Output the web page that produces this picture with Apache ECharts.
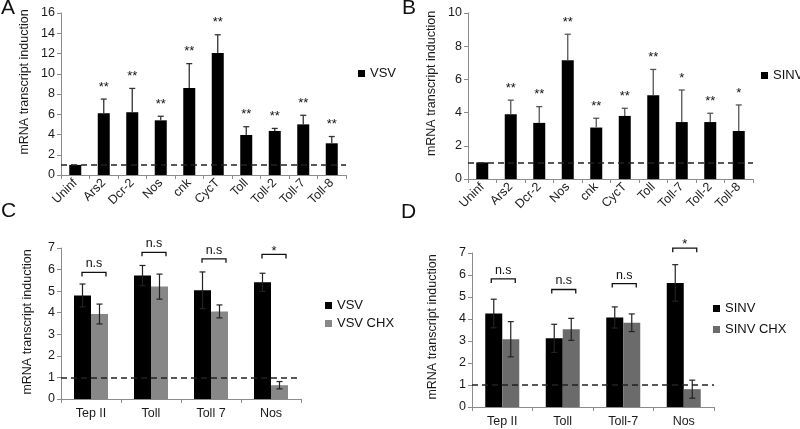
<!DOCTYPE html>
<html>
<head>
<meta charset="utf-8">
<script src="https://cdn.jsdelivr.net/npm/echarts@6/dist/echarts.min.js"></script>
<style>html,body{margin:0;padding:0;background:#fff;}#c{width:800px;height:429px;}</style>
</head>
<body>
<div id="c"></div>
<script>
// ---------- DATA ----------
const catsA = ['Uninf','Ars2','Dcr-2','Nos','cnk','CycT','Toll','Toll-2','Toll-7','Toll-8'];
const valsA = [1, 6.1, 6.2, 5.4, 8.6, 12.05, 3.95, 4.35, 5.0, 3.13];
const errA  = [0, 1.4, 2.35, 0.4, 2.4, 1.8, 0.82, 0.25, 0.9, 0.67];
const sigA  = ['', '**','**','**','**','**','**','**','**','**'];

const catsB = ['Uninf','Ars2','Dcr-2','Nos','cnk','CycT','Toll','Toll-7','Toll-2','Toll-8'];
const valsB = [1, 3.9, 3.38, 7.15, 3.1, 3.8, 5.04, 3.43, 3.43, 2.89];
const errB  = [0, 0.85, 0.98, 1.57, 0.56, 0.46, 1.56, 1.93, 0.53, 1.57];
const sigB  = ['', '**','**','**','**','**','**','*','**','*'];

const catsC   = ['Tep II','Toll','Toll 7','Nos'];
const vsvC    = [4.8, 5.72, 5.04, 5.41];
const vsvErrC = [0.53, 0.47, 0.85, 0.42];
const chxC    = [3.94, 5.21, 4.06, 0.64];
const chxErrC = [0.46, 0.58, 0.3, 0.17];
const brkC    = [5.87, 6.8, 6.5, 6.7];
const sigC    = ['n.s','n.s','n.s','*'];

const catsD    = ['Tep II','Toll','Toll-7','Nos'];
const sinvD    = [4.25, 3.12, 4.07, 5.64];
const sinvErrD = [0.65, 0.64, 0.48, 0.83];
const chxD     = [3.08, 3.53, 3.83, 0.81];
const chxErrD  = [0.8, 0.5, 0.4, 0.41];
const brkD     = [5.82, 5.34, 5.61, 7.22];
const sigD     = ['n.s','n.s','n.s','*'];

const baseline = 1;
const yTitle = 'mRNA transcript induction';

// ---------- STYLE ----------
const FONT = '"Liberation Sans", Arial, sans-serif';
const AX = '#8c8c8c';
const TXT = '#1a1a1a';

function xAxisCfg(gi, cats, rotate) {
  return {
    type: 'category', gridIndex: gi, data: cats,
    axisLine: { show: true, lineStyle: { color: AX, width: 1 } },
    axisTick: { show: true, length: 4, alignWithLabel: false, lineStyle: { color: AX } },
    axisLabel: { interval: 0, rotate: rotate, fontSize: 12.5, color: TXT, fontFamily: FONT, margin: rotate ? 6 : 8 },
    splitLine: { show: false }
  };
}
function yAxisCfg(gi, max, interval, gap, shift) {
  return {
    type: 'value', gridIndex: gi, min: 0, max: max, interval: interval,
    axisLine: { show: true, lineStyle: { color: AX, width: 1 } },
    axisTick: { show: true, length: 4, lineStyle: { color: AX } },
    axisLabel: { fontSize: 12.5, color: TXT, fontFamily: FONT, margin: 6 },
    splitLine: { show: false },
    name: yTitle, nameLocation: 'middle', nameGap: gap,
    nameTextStyle: { fontSize: 12.5, color: TXT, fontFamily: FONT, padding: [0, 0, 0, shift] }
  };
}

function upperErr(sig, color) {
  return function (params, api) {
    const i = api.value(0), v = api.value(1), e = api.value(2);
    const b = api.coord([i, v]), t = api.coord([i, v + e]);
    const x = b[0];
    const ch = [];
    if (e > 0) {
      ch.push({ type: 'line', shape: { x1: x, y1: b[1], x2: x, y2: t[1] }, style: { stroke: color, lineWidth: 1.3 } });
      ch.push({ type: 'line', shape: { x1: x - 3, y1: t[1], x2: x + 3, y2: t[1] }, style: { stroke: color, lineWidth: 1.3 } });
    }
    const s = sig[params.dataIndex];
    if (s) ch.push({ type: 'text', style: { text: s, x: x, y: t[1] - 12, align: 'center', verticalAlign: 'middle', fontSize: 13, fontFamily: FONT, fill: '#111' } });
    return { type: 'group', children: ch };
  };
}
function bothErr(offset, color) {
  return function (params, api) {
    const i = api.value(0), v = api.value(1), e = api.value(2);
    const t = api.coord([i, v + e]), bt = api.coord([i, v - e]);
    const x = t[0] + offset;
    return { type: 'group', children: [
      { type: 'line', shape: { x1: x, y1: bt[1], x2: x, y2: t[1] }, style: { stroke: color, lineWidth: 1.2 } },
      { type: 'line', shape: { x1: x - 3, y1: t[1], x2: x + 3, y2: t[1] }, style: { stroke: color, lineWidth: 1.2 } },
      { type: 'line', shape: { x1: x - 3, y1: bt[1], x2: x + 3, y2: bt[1] }, style: { stroke: color, lineWidth: 1.2 } }
    ] };
  };
}
function bracket(sig, shift) {
  return function (params, api) {
    const i = api.value(0), v = api.value(1);
    const p = api.coord([i, v]);
    const cx = p[0] + shift, y = p[1];
    const s = sig[params.dataIndex];
    return { type: 'group', children: [
      { type: 'polyline', shape: { points: [[cx - 12, y + 4], [cx - 12, y], [cx + 12, y], [cx + 12, y + 4]] }, style: { stroke: '#111', lineWidth: 1.3, fill: null } },
      { type: 'text', style: { text: s, x: cx, y: s === '*' ? y + 3 : y - 2, align: 'center', verticalAlign: 'bottom', fontSize: s === '*' ? 13 : 12.5, fontFamily: FONT, fill: '#111' } }
    ] };
  };
}
function dashLine() {
  return {
    silent: true, symbol: ['none', 'none'],
    label: { show: false },
    lineStyle: { type: [6, 4], color: '#222', width: 1.5 },
    emphasis: { disabled: true },
    data: [{ yAxis: baseline }]
  };
}
function legendCfg(names, left, top, gap) {
  return {
    data: names, orient: 'vertical', left: left, top: top, itemGap: gap,
    icon: 'rect', itemWidth: 7, itemHeight: 7, selectedMode: false,
    textStyle: { fontSize: 13, color: '#111', fontFamily: FONT }
  };
}

const option = {
  animation: false,
  backgroundColor: '#fff',
  textStyle: { fontFamily: FONT },
  grid: [
    { left: 61, top: 13, width: 285, height: 162, outerBoundsMode: 'none' },
    { left: 468, top: 13, width: 285, height: 166, outerBoundsMode: 'none' },
    { left: 61, top: 248, width: 240, height: 151, outerBoundsMode: 'none' },
    { left: 472, top: 253, width: 242, height: 154, outerBoundsMode: 'none' }
  ],
  xAxis: [
    xAxisCfg(0, catsA, 45), xAxisCfg(1, catsB, 45), xAxisCfg(2, catsC, 0), xAxisCfg(3, catsD, 0)
  ],
  yAxis: [
    yAxisCfg(0, 16, 2, 30, 24), yAxisCfg(1, 10, 2, 30, 25), yAxisCfg(2, 7, 1, 27, 3), yAxisCfg(3, 7, 1, 33, 6)
  ],
  legend: [
    legendCfg(['VSV'], 353, 62, 5),
    legendCfg(['SINV'], 756, 64, 5),
    legendCfg(['VSV', 'VSV CHX'], 320, 294, 5),
    legendCfg(['SINV', 'SINV CHX'], 708, 297, 8)
  ],
  series: [
    // Panel A
    { type: 'bar', name: 'VSV', xAxisIndex: 0, yAxisIndex: 0, data: valsA, barWidth: 12, itemStyle: { color: '#000' }, z: 3, markLine: dashLine() },
    { type: 'custom', name: 'errA', xAxisIndex: 0, yAxisIndex: 0, z: 4, renderItem: upperErr(sigA, '#333'),
      data: valsA.map((v, i) => [i, v, errA[i]]), encode: { x: 0, y: 1 } },
    // Panel B
    { type: 'bar', name: 'SINV', xAxisIndex: 1, yAxisIndex: 1, data: valsB, barWidth: 12, itemStyle: { color: '#000' }, z: 3, markLine: dashLine() },
    { type: 'custom', name: 'errB', xAxisIndex: 1, yAxisIndex: 1, z: 4, renderItem: upperErr(sigB, '#555'),
      data: valsB.map((v, i) => [i, v, errB[i]]), encode: { x: 0, y: 1 } },
    // Panel C
    { type: 'bar', name: 'VSV', xAxisIndex: 2, yAxisIndex: 2, data: vsvC, barWidth: 17, barGap: 0, itemStyle: { color: '#000' }, z: 3 },
    { type: 'bar', name: 'VSV CHX', xAxisIndex: 2, yAxisIndex: 2, data: chxC, barWidth: 17, barGap: 0, itemStyle: { color: '#878787' }, z: 3 },
    { type: 'custom', name: 'errC1', xAxisIndex: 2, yAxisIndex: 2, z: 4, renderItem: bothErr(-8.5, '#222'),
      data: vsvC.map((v, i) => [i, v, vsvErrC[i]]), encode: { x: 0, y: 1 } },
    { type: 'custom', name: 'errC2', xAxisIndex: 2, yAxisIndex: 2, z: 4, renderItem: bothErr(8.5, '#222'),
      data: chxC.map((v, i) => [i, v, chxErrC[i]]), encode: { x: 0, y: 1 } },
    { type: 'custom', name: 'brkC', xAxisIndex: 2, yAxisIndex: 2, z: 2, renderItem: bracket(sigC, 3),
      data: brkC.map((v, i) => [i, v]), encode: { x: 0, y: 1 }, markLine: dashLine() },
    // Panel D
    { type: 'bar', name: 'SINV', xAxisIndex: 3, yAxisIndex: 3, data: sinvD, barWidth: 17, barGap: 0, itemStyle: { color: '#000' }, z: 3 },
    { type: 'bar', name: 'SINV CHX', xAxisIndex: 3, yAxisIndex: 3, data: chxD, barWidth: 17, barGap: 0, itemStyle: { color: '#6b6b6b' }, z: 3 },
    { type: 'custom', name: 'errD1', xAxisIndex: 3, yAxisIndex: 3, z: 4, renderItem: bothErr(-8.5, '#222'),
      data: sinvD.map((v, i) => [i, v, sinvErrD[i]]), encode: { x: 0, y: 1 } },
    { type: 'custom', name: 'errD2', xAxisIndex: 3, yAxisIndex: 3, z: 4, renderItem: bothErr(8.5, '#222'),
      data: chxD.map((v, i) => [i, v, chxErrD[i]]), encode: { x: 0, y: 1 } },
    { type: 'custom', name: 'brkD', xAxisIndex: 3, yAxisIndex: 3, z: 2, renderItem: bracket(sigD, 1),
      data: brkD.map((v, i) => [i, v]), encode: { x: 0, y: 1 }, markLine: dashLine() }
  ],
  graphic: [
    { type: 'text', left: 1, top: -2, style: { text: 'A', fontSize: 21, fontFamily: FONT, fill: '#111' } },
    { type: 'text', left: 402, top: -2, style: { text: 'B', fontSize: 21, fontFamily: FONT, fill: '#111' } },
    { type: 'text', left: 1, top: 201, style: { text: 'C', fontSize: 21, fontFamily: FONT, fill: '#111' } },
    { type: 'text', left: 401, top: 202, style: { text: 'D', fontSize: 21, fontFamily: FONT, fill: '#111' } }
  ]
};

const chart = echarts.init(document.getElementById('c'), null, { renderer: 'canvas' });
chart.setOption(option);
</script>
</body>
</html>
